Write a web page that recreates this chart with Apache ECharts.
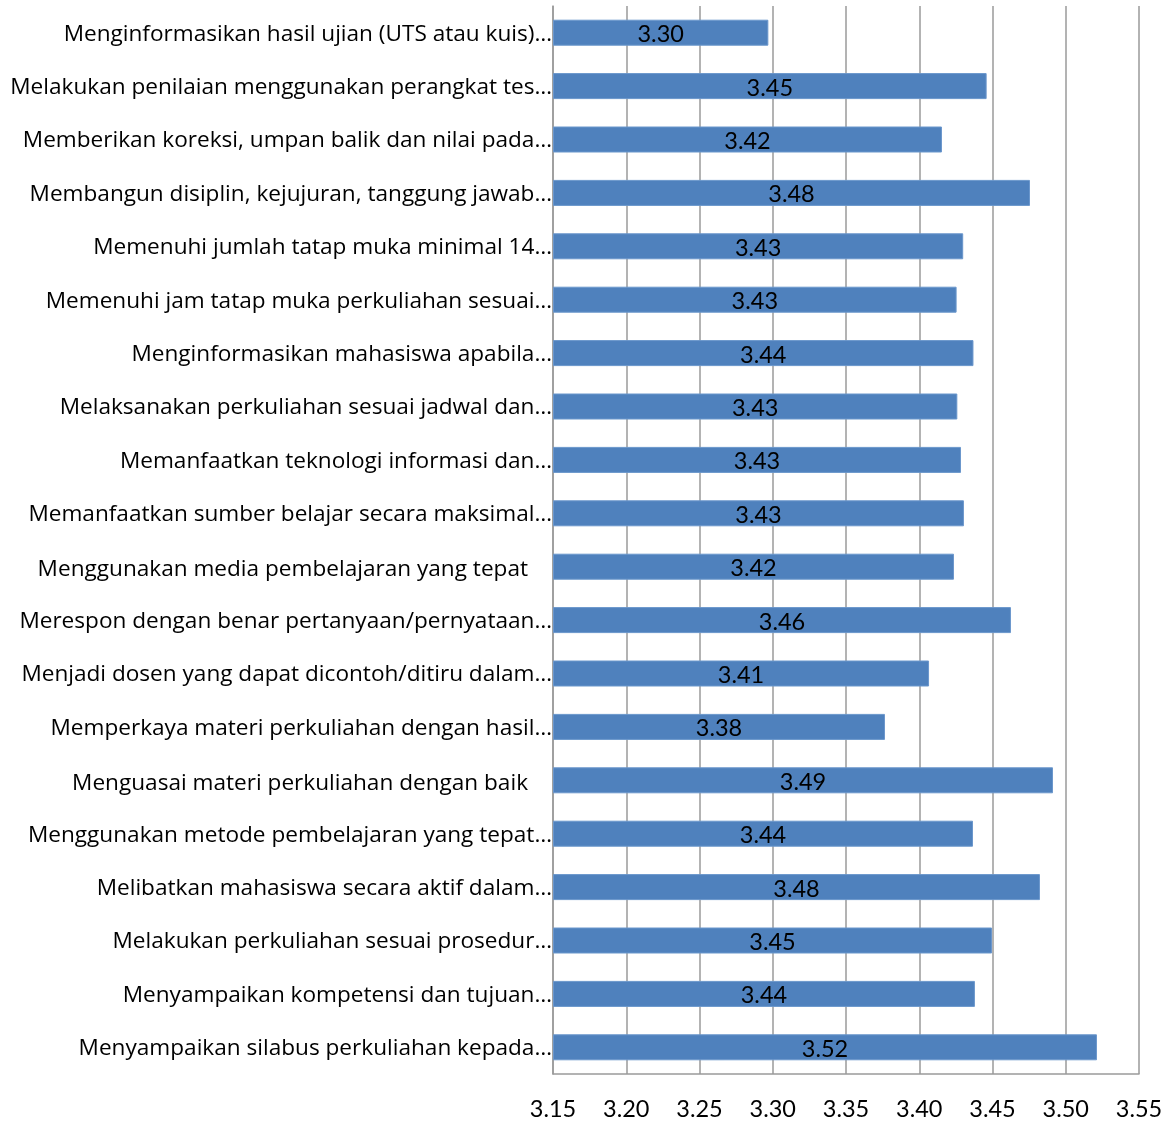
<!DOCTYPE html>
<html>
<head>
<meta charset="utf-8">
<script src="https://cdn.jsdelivr.net/npm/echarts@6/dist/echarts.min.js"></script>
<style>
  html, body { margin: 0; padding: 0; background: #fff; }
  #main { width: 1173px; height: 1121px; }
</style>
</head>
<body>
<div id="main"></div>
<script>
// categories, top to bottom as in the picture
var categories = [
    'Menginformasikan hasil ujian (UTS atau kuis)…',
    'Melakukan penilaian menggunakan perangkat tes…',
    'Memberikan koreksi, umpan balik dan nilai pada…',
    'Membangun disiplin, kejujuran, tanggung jawab…',
    'Memenuhi jumlah tatap muka minimal 14…',
    'Memenuhi jam tatap muka perkuliahan sesuai…',
    'Menginformasikan mahasiswa apabila…',
    'Melaksanakan perkuliahan sesuai jadwal dan…',
    'Memanfaatkan teknologi informasi dan…',
    'Memanfaatkan sumber belajar secara maksimal…',
    'Menggunakan media pembelajaran yang tepat',
    'Merespon dengan benar pertanyaan/pernyataan…',
    'Menjadi dosen yang dapat dicontoh/ditiru dalam…',
    'Memperkaya materi perkuliahan dengan hasil…',
    'Menguasai materi perkuliahan dengan baik',
    'Menggunakan metode pembelajaran yang tepat…',
    'Melibatkan mahasiswa secara aktif dalam…',
    'Melakukan perkuliahan sesuai prosedur…',
    'Menyampaikan kompetensi dan tujuan…',
    'Menyampaikan silabus perkuliahan kepada…'
];
var scores = [
    3.297, 3.446, 3.4155, 3.4756, 3.430, 3.4255, 3.437, 3.426, 3.4285, 3.4305,
    3.4237, 3.4626, 3.4067, 3.3766, 3.4913, 3.4367, 3.4824, 3.4497, 3.438, 3.5213
];
var xTicks = ['3.15', '3.20', '3.25', '3.30', '3.35', '3.40', '3.45', '3.50', '3.55'];

var chart = echarts.init(document.getElementById('main'));
var option = {
    animation: false,
    grid: { left: 553, right: 34, top: 6, bottom: 45 },
    xAxis: {
        type: 'value',
        min: 3.15,
        max: 3.55,
        interval: 0.05,
        startValue: 3.15,
        axisLine: { show: true, lineStyle: { color: '#9a9a9a', width: 1.5 } },
        axisTick: { show: false },
        splitLine: { show: true, lineStyle: { color: '#9a9a9a', width: 1.5 } },
        axisLabel: {
            margin: 23,
            fontFamily: 'Lato',
            fontSize: 23.5,
            color: '#000',
            formatter: function (v) {
                var i = Math.round((v - 3.15) / 0.05);
                return xTicks[i] || v.toFixed(2);
            }
        }
    },
    yAxis: {
        type: 'category',
        inverse: true,
        data: categories,
        axisLine: { show: true, lineStyle: { color: '#9a9a9a', width: 1.5 } },
        axisTick: { show: false },
        axisLabel: {
            margin: 1,
            fontFamily: 'Open Sans',
            fontSize: 22.6,
            color: '#000',
            padding: [3, 0, 0, 0],
            formatter: function (v) {
                if (v.charAt(v.length - 1) === '…') return v;
                return '{p|' + v + '}';
            },
            rich: {
                p: { fontFamily: 'Open Sans', fontSize: 22.6, color: '#000', padding: [3, 24, 0, 0] }
            }
        }
    },
    series: [{
        type: 'bar',
        data: scores,
        barWidth: 26,
        itemStyle: { color: '#4F81BD', borderColor: '#6b97cc', borderWidth: 1 },
        label: {
            show: true,
            position: 'inside',
            offset: [0, 2],
            fontFamily: 'Lato',
            fontSize: 23.5,
            color: '#000',
            formatter: function (p) { return p.value.toFixed(2); }
        }
    }]
};
chart.setOption(option);
</script>
</body>
</html>
